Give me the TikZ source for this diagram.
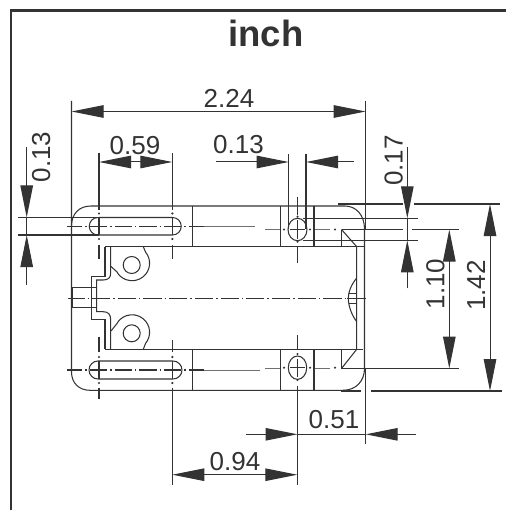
\documentclass[tikz,border=0pt]{standalone}
\usepackage{fontspec}
\setmainfont{Liberation Sans}
\usetikzlibrary{arrows.meta}
\definecolor{ink}{HTML}{333333}
\tikzset{
  part/.style={draw=ink,line width=1.05pt},
  thin part/.style={draw=ink!70,line width=0.9pt},
  dim/.style={draw=ink,line width=1pt},
  tips/.style={{Triangle[length=32pt,width=12.5pt,fill=ink]}-{Triangle[length=32pt,width=12.5pt,fill=ink]}},
  tipa/.style={-{Triangle[length=32pt,width=12.5pt,fill=ink]}},
  val/.style={text=ink,font=\fontsize{26}{26}\selectfont,inner sep=0pt,anchor=base},
  dashdotA/.style={part,dash pattern=on 1.5pt off 3pt on 17.25pt off 3pt,dash phase=6.5pt},
  dashdotB/.style={part,dash pattern=on 1.5pt off 3pt on 18.2pt off 3pt,dash phase=6.15pt},
  dot/.style={fill=ink,draw=none}
}
\begin{document}
\begin{tikzpicture}[x=1pt,y=-1pt]
\useasboundingbox (0,0) rectangle (505,510);
% frame
\draw[draw=ink,line width=2.5pt] (510,10.5) -- (11,10.5) -- (11,515);
\node[text=ink,font=\bfseries\fontsize{36.5}{36}\selectfont,inner sep=0pt,anchor=base] (title) at (266,47) {inch};

% body outline
\draw[part] (71.5,101) -- (71.5,372) .. controls (71.5,383) and (79,390.3) .. (90,390.3) -- (345,390.3);
\draw[part] (71.5,226) .. controls (71.5,214) and (79,206) .. (91,206) -- (345,206)
  .. controls (356,206) and (364.5,215) .. (364.5,229) -- (364.5,368.5)
  .. controls (364.5,381) and (356,390.3) .. (343,390.3);
\draw[part] (365.7,101) -- (365.7,229);
\draw[part] (365.7,368.5) -- (365.7,444);

% inner contour
\draw[part] (105,349.3) -- (363,349.3);
\draw[part] (105,246.7) -- (364,246.7);
\draw[part] (105,246.7) -- (105,276.7) -- (91.7,276.7) -- (91.7,319.3) -- (105,319.3) -- (105,349.3);
\draw[part] (110.7,246.7) -- (110.7,273) .. controls (110.7,278) and (108,280) .. (103,280) -- (96.7,280) -- (96.7,311.7) -- (103,311.7) .. controls (108,311.7) and (110.7,314) .. (110.7,320) -- (110.7,349.3);
\draw[part] (71.5,287.7) -- (96.7,287.7) (71.5,307.7) -- (96.7,307.7) (72.7,287.7) -- (72.7,307.7);

% lugs
\draw[part] (131.7,265) circle[radius=8.5];
\draw[part] (131.7,333.3) circle[radius=8.5];
\draw[part] (143.3,246.7) -- (145.5,252) arc[start angle=-40,end angle=151,radius=17.5] -- (111,266.5);
\draw[part] (143.3,349.3) -- (145.5,343.5) arc[start angle=40,end angle=-151,radius=17.5] -- (111,331);

% slots
\draw[part] (99,217.5) -- (172.5,217.5) arc[start angle=-90,end angle=90,radius=8.75] -- (98,235) arc[start angle=90,end angle=270,radius=8.75];
\draw[part] (98,361) -- (173,361) arc[start angle=-90,end angle=90,radius=9] -- (98,379) arc[start angle=90,end angle=270,radius=9];

% box verticals
\draw[part] (192.3,206) -- (192.3,246.7) (192.3,349.3) -- (192.3,390.3);
\draw[part] (280.7,206) -- (280.7,246.7) (280.7,349.3) -- (280.7,390.3);
\draw[part] (314,206) -- (314,246.7) (314,349.3) -- (314,390.3);

% chamfers and right side
\draw[part] (341.5,229.5) -- (341.5,246.7);
\draw[part] (341.5,349.3) -- (341.5,368.5);
\draw[part] (341.5,229.5) -- (356.7,246.7) -- (356.7,349.3) -- (341.5,368.5);
\draw[part] (356.7,278) .. controls (351,285) and (348.3,292) .. (348.3,298.3) .. controls (348.3,305) and (351,314) .. (356.7,321.7);
\draw[part] (349,293.3) -- (356.7,293.3) (349,303.3) -- (356.7,303.3);

% holes
\draw[part] (297.5,229.5) ellipse[x radius=9.5,y radius=11.2];
\draw[part] (297.5,367.7) ellipse[x radius=9.2,y radius=11.7];
\draw[part] (290,229.5) -- (305,229.5) (290,367.7) -- (305,367.7);
\draw[part] (297.5,196.7) -- (297.5,215) (297.5,220) -- (297.5,239) (297.5,246.7) -- (297.5,262.7);
\draw[part] (297.5,335) -- (297.5,349) (297.5,359) -- (297.5,377) (297.5,386) -- (297.5,485);

% centre lines
\draw[dashdotB] (68,298.3) -- (347,298.3);
\draw[part] (347,298.3) -- (365.7,298.3);
\draw[dashdotA] (67,226.5) -- (204,226.5);
\draw[dashdotA] (67,370) -- (204,370);
\draw[thin part] (204,226.5) -- (255,226.5) (204,370) -- (260,370);
\draw[thin part] (265,229) -- (280,229) (315,229) -- (330,229);
\draw[thin part] (265,368) -- (280,368) (315,368) -- (330,368);
\draw[part] (99,153) -- (99,210) (99,217) -- (99,235) (99,245) -- (99,259);
\draw[part] (172.3,153) -- (172.3,210) (172.3,217) -- (172.3,235) (172.3,245) -- (172.3,259);
\draw[part] (99,337) -- (99,352) (99,361) -- (99,379) (99,388) -- (99,399);
\draw[part] (172.3,340) -- (172.3,352) (172.3,361) -- (172.3,379) (172.3,388) -- (172.3,485);
\foreach \p in {(99,213.5),(99,239),(172.3,213.5),(172.3,239),(99,357),(99,383),(172.3,357),(172.3,383),
  (297.5,216.7),(297.5,241.7),(284,229.5),(310,229.5),(335,229.5),
  (297.5,354),(297.5,380),(284,367.7),(310,367.7),(335,367.7)}
  \fill[dot] \p circle[radius=1.2];

% extension lines
\draw[part] (288.7,154) -- (288.7,229) (306,154) -- (306,229);
\draw[part] (18,217.5) -- (99,217.5) (18,235) -- (99,235);
\draw[part] (303,218.3) -- (418,218.3) (303,240.3) -- (418,240.3);
\draw[part] (338,204) -- (403,204) (414,204) -- (500,204);
\draw[part] (341.5,229.5) -- (403,229.5) (412,229.5) -- (459,229.5);
\draw[part] (341.5,368.5) -- (459,368.5);
\draw[part] (341,391) -- (361,391) (371,391) -- (502,391);

% dimensions
\draw[dim,tips] (71.5,111.5) -- (365.7,111.5);
\node[val] (d224) at (229,108) {2.24};
\draw[dim,tips] (99,162) -- (172.3,162);
\node[val] (d059) at (135,155) {0.59};
\draw[dim,tipa] (216,162) -- (288.7,162);
\draw[dim,tipa] (354,162) -- (306,162);
\node[val] (d013a) at (238.5,154) {0.13};
\draw[dim,tipa] (26.7,146.7) -- (26.7,217.5);
\draw[dim,tipa] (26.7,285) -- (26.7,235);
\draw[dim] (26.7,217.5) -- (26.7,235);
\node[val,rotate=90] (d013b) at (50,157) {0.13};
\draw[dim,tipa] (407.3,146.7) -- (407.3,218.3);
\draw[dim,tipa] (407.3,288.3) -- (407.3,240.3);
\draw[dim] (407.3,218.3) -- (407.3,240.3);
\node[val,rotate=90] (d017) at (402.7,160.4) {0.17};
\draw[dim,tips] (449.3,229.5) -- (449.3,368.5);
\node[val,rotate=90] (d110) at (444.3,284) {1.10};
\draw[dim,tips] (490,204) -- (490,391);
\node[val,rotate=90] (d142) at (485,285.4) {1.42};
\draw[dim,tipa] (246,434.3) -- (297.5,434.3);
\draw[dim,tipa] (415.7,434.3) -- (365.7,434.3);
\draw[dim] (297.5,434.3) -- (365.7,434.3);
\node[val] (d051) at (334,428) {0.51};
\draw[dim,tips] (172.3,474.7) -- (297.3,474.7);
\node[val] (d094) at (235,470) {0.94};
\end{tikzpicture}
\end{document}
